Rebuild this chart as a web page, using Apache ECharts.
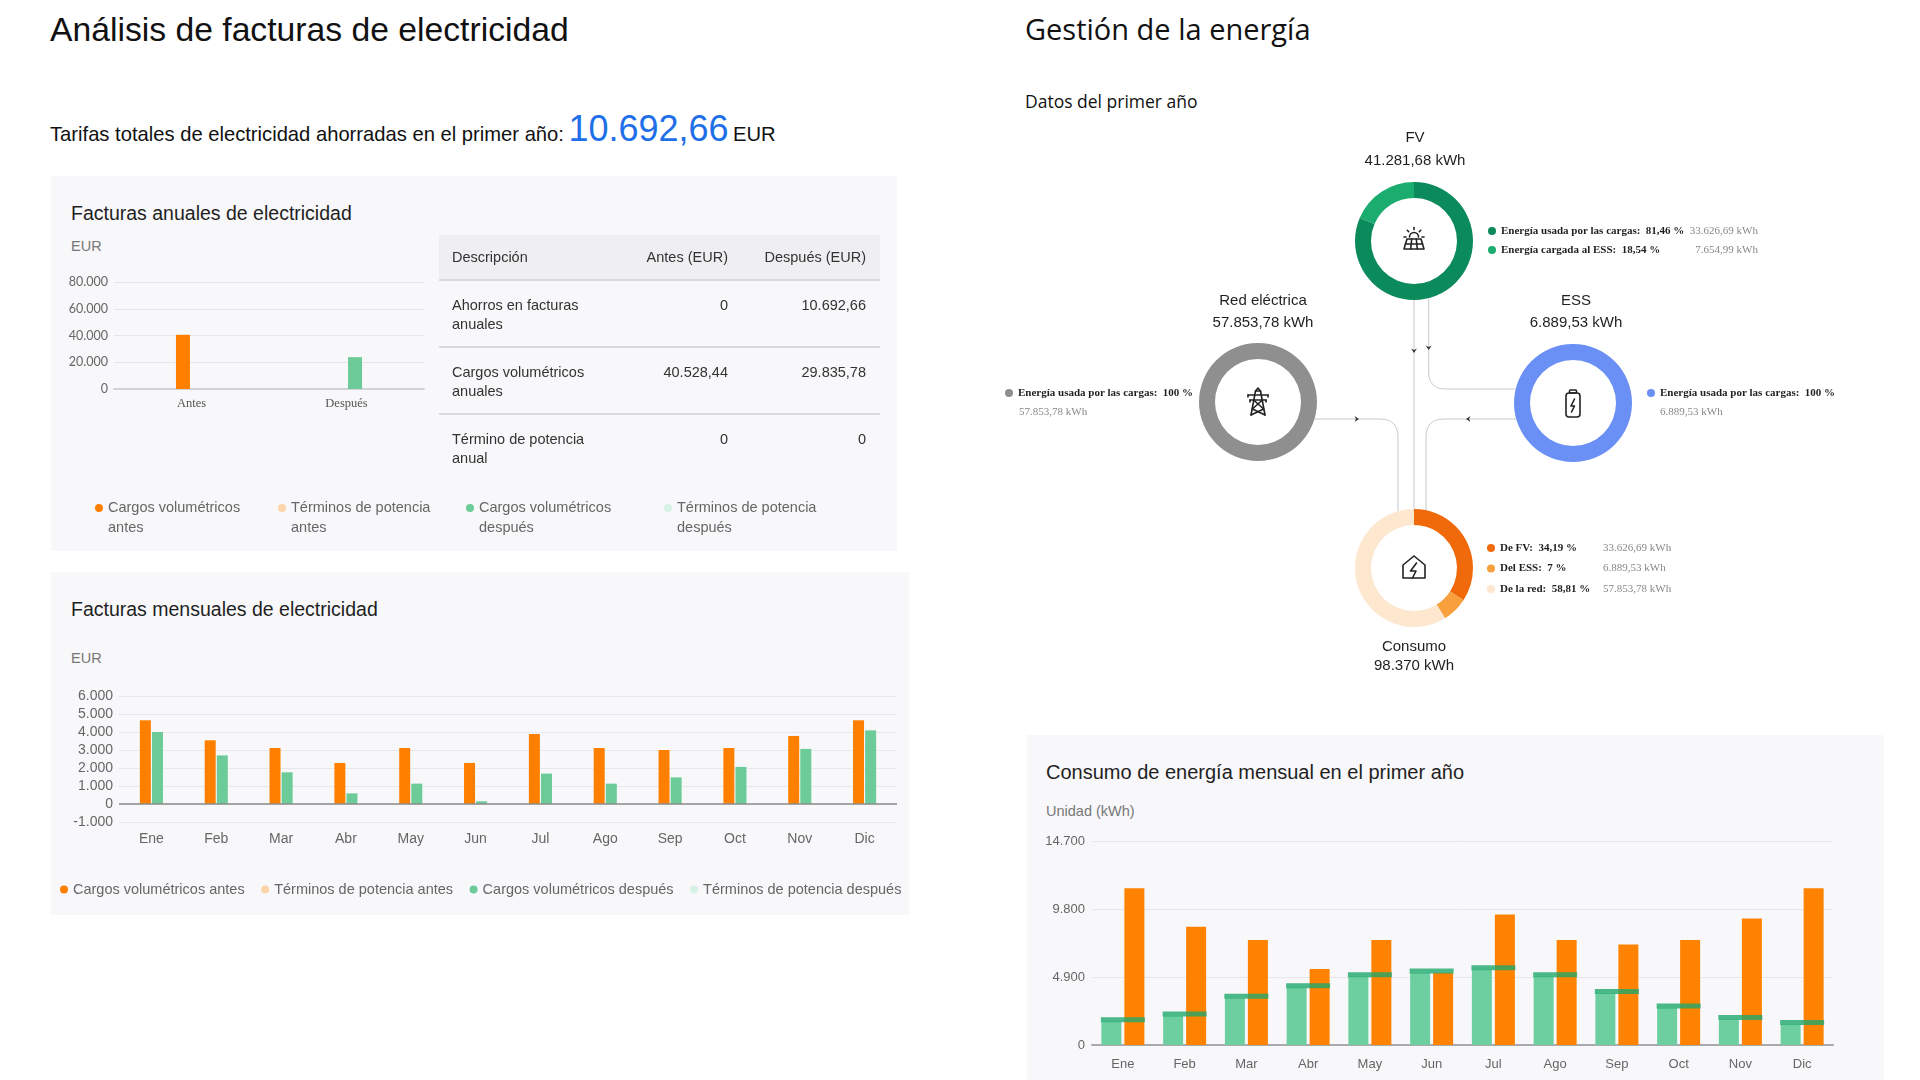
<!DOCTYPE html>
<html lang="es">
<head>
<meta charset="utf-8">
<title>Análisis de facturas de electricidad</title>
<script src="https://cdn.jsdelivr.net/npm/echarts@6/dist/echarts.min.js"></script>
<style>
  html, body { margin: 0; padding: 0; background: #fff; }
  body { width: 1920px; height: 1080px; position: relative; overflow: hidden;
         font-family: 'Liberation Sans', Arial, sans-serif; color: #1a1a1a; }
  .abs { position: absolute; }
  .panel { position: absolute; background: #f8f8fa; }
  .ptitle { position: absolute; font-size: 19.5px; line-height: 22px; color: #1f1f1f; white-space: nowrap; }
  .unit { position: absolute; font-size: 14.5px; line-height: 16px; color: #777; }
  #annualTable { position: absolute; border-collapse: collapse; table-layout: fixed; width: 441px;
                 font-size: 14.5px; color: #333; }
  #annualTable th { background: #efeff2; font-weight: normal; height: 44px; padding: 0 14px 0 13px;
                    border-bottom: 2px solid #dadade; }
  #annualTable td { vertical-align: top; height: 50px; padding: 15px 14px 0 13px; line-height: 19px;
                    border-bottom: 2px solid #dadade; }
  #annualTable tr:last-child td { border-bottom: none; }
  #annualTable .l { text-align: left; }
  #annualTable .r { text-align: right; }
</style>
</head>
<body>

<div class="abs" style="left:50px;top:9px;font-size:33.7px;line-height:40px;color:#111;">Análisis de facturas de electricidad</div>
<div class="abs" style="left:50px;top:107px;line-height:44px;white-space:nowrap;color:#111;">
  <span style="font-size:20.2px;">Tarifas totales de electricidad ahorradas en el primer año:</span>
  <span id="savedTotal" style="font-size:36px;color:#1f6fe8;"></span>
  <span style="font-size:20.2px;">EUR</span>
</div>

<div class="panel" style="left:51px;top:176px;width:846px;height:375px;"></div>
<div class="ptitle" style="left:71px;top:202px;">Facturas anuales de electricidad</div>
<div class="unit" style="left:71px;top:238px;">EUR</div>
<div id="annualChart" class="abs" style="left:51px;top:176px;width:846px;height:375px;"></div>
<table id="annualTable" style="left:439px;top:235px;">
  <colgroup><col style="width:175px"><col style="width:128px"><col style="width:138px"></colgroup>
  <thead><tr id="tableHead"></tr></thead>
  <tbody id="tableBody"></tbody>
</table>

<div class="panel" style="left:51px;top:572px;width:858px;height:343px;"></div>
<div class="ptitle" style="left:71px;top:598px;">Facturas mensuales de electricidad</div>
<div class="unit" style="left:71px;top:650px;">EUR</div>
<div id="monthlyChart" class="abs" style="left:51px;top:572px;width:858px;height:343px;"></div>

<div class="abs" style="left:1025px;top:9px;font-family:'Open Sans',sans-serif;font-size:29px;color:#111;white-space:nowrap;">Gestión de la energía</div>
<div class="abs" style="left:1025px;top:89px;font-family:'Open Sans',sans-serif;font-size:17.5px;color:#111;white-space:nowrap;">Datos del primer año</div>
<div id="flowChart" class="abs" style="left:1000px;top:0px;width:920px;height:720px;"></div>

<div class="panel" style="left:1027px;top:735px;width:857px;height:345px;"></div>
<div class="ptitle" style="left:1046px;top:761px;font-size:20px;">Consumo de energía mensual en el primer año</div>
<div class="unit" style="left:1046px;top:803px;">Unidad (kWh)</div>
<div id="energyChart" class="abs" style="left:1027px;top:735px;width:857px;height:345px;"></div>

<script>
// ---------------- datos ----------------
var savedTotal = 10692.66;

var tableHead = ['Descripción', 'Antes (EUR)', 'Después (EUR)'];
var tableDesc = [['Ahorros en facturas', 'anuales'], ['Cargos volumétricos', 'anuales'], ['Término de potencia', 'anual']];
var tableAntes = [0, 40528.44, 0];
var tableDespues = [10692.66, 29835.78, 0];

var seriesNames = ['Cargos volumétricos antes', 'Términos de potencia antes', 'Cargos volumétricos después', 'Términos de potencia después'];

var annualCats = ['Antes', 'Después'];
var annualCargosAntes = [40528.44, 0];
var annualTerminosAntes = [0, 0];
var annualCargosDespues = [0, 23840];
var annualTerminosDespues = [0, 0];

var months = ['Ene', 'Feb', 'Mar', 'Abr', 'May', 'Jun', 'Jul', 'Ago', 'Sep', 'Oct', 'Nov', 'Dic'];
var cargosAntes = [4650, 3540, 3110, 2280, 3110, 2280, 3890, 3110, 3000, 3110, 3780, 4650];
var terminosAntes = [0, 0, 0, 0, 0, 0, 0, 0, 0, 0, 0, 0];
var cargosDespues = [4000, 2700, 1760, 590, 1130, 150, 1690, 1130, 1480, 2060, 3060, 4090];
var terminosDespues = [0, 0, 0, 0, 0, 0, 0, 0, 0, 0, 0, 0];

var pvMonthly = [1670, 2090, 3360, 4130, 4920, 5180, 5420, 4920, 3720, 2670, 1830, 1470];
var consumoMonthly = [11300, 8520, 7570, 5480, 7570, 5200, 9410, 7570, 7250, 7570, 9120, 11300];

var fvTotal = 41281.68;
var fvNames = ['Energía usada por las cargas', 'Energía cargada al ESS'];
var fvValues = [33626.69, 7654.99];
var fvPct = ['81,46', '18,54'];

var gridTotal = 57853.78;
var gridNames = ['Energía usada por las cargas'];
var gridValues = [57853.78];
var gridPct = ['100'];

var essTotal = 6889.53;
var essNames = ['Energía usada por las cargas'];
var essValues = [6889.53];
var essPct = ['100'];

var consumoTotal = 98370;
var consumoNames = ['De FV', 'Del ESS', 'De la red'];
var consumoValues = [33626.69, 6889.53, 57853.78];
var consumoPct = ['34,19', '7', '58,81'];

// ---------------- estilos ----------------
var seriesColors = ['#ff8000', '#fdd3a9', '#6ccb98', '#d7f2e4'];
var seriesStacks = ['antes', 'antes', 'despues', 'despues'];
var fvColors = ['#0b8a5b', '#1bad6f'];
var gridColors = ['#8f8f8f'];
var essColors = ['#6a8ff5'];
var consumoColors = ['#f06a0c', '#f7a03d', '#fde7cf'];

function fmtNum(v, d) {
  var s = Number(v).toFixed(d || 0);
  var p = s.split('.');
  p[0] = p[0].replace(/\B(?=(\d{3})+(?!\d))/g, '.');
  return p.length > 1 ? p[0] + ',' + p[1] : p[0];
}
function fmtEur(v) { return v === 0 ? '0' : fmtNum(v, 2); }

// ---------------- cabecera y tabla ----------------
document.getElementById('savedTotal').textContent = fmtNum(savedTotal, 2);
var headHtml = '';
tableHead.forEach(function(h, i) { headHtml += '<th class="' + (i ? 'r' : 'l') + '">' + h + '</th>'; });
document.getElementById('tableHead').innerHTML = headHtml;
var bodyHtml = '';
tableDesc.forEach(function(d, i) {
  bodyHtml += '<tr><td class="l">' + d.join('<br>') + '</td><td class="r">' + fmtEur(tableAntes[i]) +
    '</td><td class="r">' + fmtEur(tableDespues[i]) + '</td></tr>';
});
document.getElementById('tableBody').innerHTML = bodyHtml;

// ---------------- facturas anuales ----------------
var annualChart = echarts.init(document.getElementById('annualChart'));
var annualData = [annualCargosAntes, annualTerminosAntes, annualCargosDespues, annualTerminosDespues];
var legendX = [44, 227, 415, 613];
// punto a la altura de la primera linea del texto
var dotIcon = 'path://M-4,0A4,4,0,1,1,4,0A4,4,0,1,1,-4,0ZM0,24L0,24';

annualChart.setOption({
  animation: false,
  grid: { left: 63, top: 106, width: 310, height: 107 },
  legend: seriesNames.map(function(n, i) {
    return {
      data: [n], left: legendX[i], top: 322, padding: 0, selectedMode: false,
      icon: dotIcon, itemWidth: 8, itemHeight: 28,
      formatter: function(name) {
        var k = name.lastIndexOf(' ');
        return name.slice(0, k) + '\n' + name.slice(k + 1);
      },
      textStyle: { fontFamily: 'Liberation Sans', fontSize: 14.5, lineHeight: 20, color: '#666' }
    };
  }),
  xAxis: {
    type: 'category', data: annualCats,
    axisLine: { lineStyle: { color: '#d2d2d7', width: 2 } },
    axisTick: { show: false },
    axisLabel: { fontFamily: 'Liberation Serif', fontSize: 12.5, color: '#555', margin: 8 }
  },
  yAxis: {
    type: 'value', min: 0, max: 80000, interval: 20000,
    axisLine: { show: false }, axisTick: { show: false },
    axisLabel: { formatter: function(v) { return fmtNum(v); }, fontFamily: 'Lato', fontSize: 12.5, color: '#666', margin: 6 },
    splitLine: { lineStyle: { color: '#e6e6ea' } }
  },
  series: annualData.map(function(d, i) {
    return { name: seriesNames[i], type: 'bar', stack: seriesStacks[i], data: d,
             barWidth: 14, barGap: '22%', itemStyle: { color: seriesColors[i] } };
  })
});

// ---------------- facturas mensuales ----------------
var monthlyChart = echarts.init(document.getElementById('monthlyChart'));
var monthlyData = [cargosAntes, terminosAntes, cargosDespues, terminosDespues];
monthlyChart.setOption({
  animation: false,
  grid: { left: 68, top: 124, width: 778, height: 126 },
  legend: {
    data: seriesNames, left: 9, top: 310, width: 900, padding: 0, itemGap: 16.5, selectedMode: false,
    icon: 'circle', itemWidth: 8, itemHeight: 8,
    textStyle: { fontFamily: 'Liberation Sans', fontSize: 14.5, color: '#666' }
  },
  xAxis: {
    type: 'category', data: months,
    axisLine: { show: false, onZero: false }, axisTick: { show: false },
    axisLabel: { fontFamily: 'Liberation Sans', fontSize: 14, color: '#666', margin: 10 }
  },
  yAxis: {
    type: 'value', min: -1000, max: 6000, interval: 1000,
    axisLine: { show: false }, axisTick: { show: false },
    axisLabel: { formatter: function(v) { return fmtNum(v); }, fontFamily: 'Liberation Sans', fontSize: 14, color: '#666', margin: 6 },
    splitLine: { lineStyle: { color: '#e8e8ec' } }
  },
  series: monthlyData.map(function(d, i) {
    var s = { name: seriesNames[i], type: 'bar', stack: seriesStacks[i], data: d,
              barWidth: 11, barGap: '10%', itemStyle: { color: seriesColors[i] } };
    if (i === 0) {
      s.markLine = { silent: true, symbol: ['none', 'none'], label: { show: false },
                     lineStyle: { color: '#8d8d8d', type: 'solid', width: 1.5 }, data: [{ yAxis: 0 }] };
    }
    return s;
  })
});

// ---------------- gestion de la energia ----------------
var flowChart = echarts.init(document.getElementById('flowChart'));
var R_OUT = 59, R_IN = 43;
var nodeFV = [414, 241], nodeGrid = [258, 402], nodeESS = [573, 403], nodeCons = [414, 568];

function ring(name, center, names, values, colors) {
  return {
    name: name, type: 'pie', center: center, radius: [R_IN, R_OUT], startAngle: 90, clockwise: true,
    silent: true, label: { show: false }, labelLine: { show: false }, z: 2,
    data: values.map(function(v, i) { return { name: names[i], value: v, itemStyle: { color: colors[i] } }; })
  };
}

// esquinas redondeadas para los conectores
function rounded(pts, r) {
  var out = [pts[0]];
  for (var i = 1; i < pts.length - 1; i++) {
    var a = pts[i - 1], b = pts[i], c = pts[i + 1];
    var l1 = Math.hypot(b[0] - a[0], b[1] - a[1]), l2 = Math.hypot(c[0] - b[0], c[1] - b[1]);
    var s = [b[0] - (b[0] - a[0]) / l1 * r, b[1] - (b[1] - a[1]) / l1 * r];
    var e = [b[0] + (c[0] - b[0]) / l2 * r, b[1] + (c[1] - b[1]) / l2 * r];
    for (var t = 0; t <= 1.0001; t += 0.125) {
      out.push([(1 - t) * (1 - t) * s[0] + 2 * (1 - t) * t * b[0] + t * t * e[0],
                (1 - t) * (1 - t) * s[1] + 2 * (1 - t) * t * b[1] + t * t * e[1]]);
    }
  }
  out.push(pts[pts.length - 1]);
  return out;
}
function edgeY(center, dx, sign) { return center[1] + sign * Math.sqrt(R_OUT * R_OUT - dx * dx); }
function edgeX(center, dy, sign) { return center[0] + sign * Math.sqrt(R_OUT * R_OUT - dy * dy); }

var lineStyle = { stroke: '#c9c9c9', lineWidth: 1, fill: 'none' };
var xFvEss = nodeFV[0] + 14.7, yFvEss = nodeESS[1] - 14;
var yGridC = nodeGrid[1] + 17, xGridC = nodeCons[0] - 16;
var yEssC = nodeESS[1] + 16, xEssC = nodeCons[0] + 12;
var connectors = [
  [[nodeFV[0], nodeFV[1] + R_OUT], [nodeCons[0], nodeCons[1] - R_OUT]],
  rounded([[xFvEss, edgeY(nodeFV, 14.7, 1)], [xFvEss, yFvEss], [edgeX(nodeESS, -14, -1), yFvEss]], 17),
  rounded([[edgeX(nodeGrid, 17, 1), yGridC], [xGridC, yGridC], [xGridC, edgeY(nodeCons, -16, -1)]], 18),
  rounded([[edgeX(nodeESS, 16, -1), yEssC], [xEssC, yEssC], [xEssC, edgeY(nodeCons, 12, -1)]], 18)
];

function arrow(x, y, dir) {
  var p = {
    down: [[-3, -2.5], [0, 2], [3, -2.5], [0, -1]],
    right: [[-2.5, -3], [2, 0], [-2.5, 3], [-1, 0]],
    left: [[2.5, -3], [-2, 0], [2.5, 3], [1, 0]]
  }[dir];
  return { type: 'polygon', x: x, y: y, z: 3, silent: true, shape: { points: p }, style: { fill: '#333' } };
}

var ink = { stroke: '#222', lineWidth: 1.6, fill: 'none', lineJoin: 'round', lineCap: 'round' };
function ln(x1, y1, x2, y2) { return { type: 'line', shape: { x1: x1, y1: y1, x2: x2, y2: y2 }, style: ink }; }
function pl(pts) { return { type: 'polyline', shape: { points: pts }, style: ink }; }

var iconSolar = { type: 'group', x: nodeFV[0], y: nodeFV[1] - 2, z: 10, silent: true, children: [
  { type: 'arc', shape: { cx: 0, cy: -2, r: 4.5, startAngle: Math.PI, endAngle: Math.PI * 2 }, style: ink },
  ln(0, -9.5, 0, -11.5), ln(-5.3, -7.3, -6.7, -8.7), ln(5.3, -7.3, 6.7, -8.7), ln(-8, -2, -10, -2), ln(8, -2, 10, -2),
  { type: 'polygon', shape: { points: [[-7, 0], [7, 0], [10, 10], [-10, 10]] }, style: ink },
  ln(-8.5, 5, 8.5, 5), ln(-2.3, 0, -3.3, 10), ln(2.3, 0, 3.3, 10)
] };
var iconTower = { type: 'group', x: nodeGrid[0], y: nodeGrid[1], z: 10, silent: true, children: [
  pl([[-7, 13], [-2.5, -11], [0, -14], [2.5, -11], [7, 13]]),
  ln(-2.5, -11, 2.5, -11),
  ln(-10, -7, 10, -7), ln(-10, -7, -10, -5), ln(10, -7, 10, -5),
  ln(-8, -2, 8, -2), ln(-8, -2, -8, 0), ln(8, -2, 8, 0),
  ln(-4.4, -2, 5.6, 7), ln(4.4, -2, -5.6, 7), ln(-5.6, 7, 7, 13), ln(5.6, 7, -7, 13)
] };
var iconBattery = { type: 'group', x: nodeESS[0], y: nodeESS[1] + 1, z: 10, silent: true, children: [
  { type: 'rect', shape: { x: -7, y: -11, width: 14, height: 24, r: 3 }, style: ink },
  { type: 'rect', shape: { x: -3.5, y: -14, width: 7, height: 3, r: 1 }, style: ink },
  pl([[1.5, -5], [-2, 2], [1.5, 2], [-1.5, 8]])
] };
var iconHouse = { type: 'group', x: nodeCons[0], y: nodeCons[1], z: 10, silent: true, children: [
  pl([[0, -12], [11, -3], [11, 10], [-11, 10], [-11, -3], [0, -12]]),
  pl([[2.5, -5], [-3.5, 3], [2, 3], [-1.5, 10]])
] };

var labelFont = '15px "Liberation Sans", Arial, sans-serif';
function label(x, y, text) {
  return { type: 'text', x: x, y: y, z: 10, silent: true,
           style: { text: text, font: labelFont, fill: '#1f1f1f', align: 'center', verticalAlign: 'middle' } };
}
var serif = 'Liberation Serif';
function subValue(x, y, text) {
  return { type: 'text', x: x, y: y, z: 10, silent: true,
           style: { text: text, fontFamily: serif, fontSize: 11, fill: '#888', align: 'left', verticalAlign: 'middle' } };
}

function ringLegend(names, colors, left, top, gap, fmt, aWidth, bWidth, bAlign) {
  return {
    orient: 'vertical', left: left, top: top, padding: 0, itemGap: gap, selectedMode: false,
    icon: 'circle', itemWidth: 8, itemHeight: 8,
    data: names.map(function(n, i) { return { name: n, itemStyle: { color: colors[i] } }; }),
    formatter: fmt,
    textStyle: {
      lineHeight: 14,
      rich: {
        a: { fontFamily: serif, fontWeight: 'bold', fontSize: 11, color: '#1f1f1f', width: aWidth, lineHeight: 14 },
        b: { fontFamily: serif, fontSize: 11, color: '#888', width: bWidth, align: bAlign, lineHeight: 14 }
      }
    }
  };
}

var graphics = connectors.map(function(pts) {
  return { type: 'polyline', z: 1, silent: true, shape: { points: pts }, style: lineStyle };
});
graphics = graphics.concat([
  arrow(nodeFV[0], 351, 'down'), arrow(xFvEss, 348, 'down'), arrow(357, yGridC, 'right'), arrow(468, yEssC, 'left'),
  iconSolar, iconTower, iconBattery, iconHouse,
  label(415, 138, 'FV'), label(415, 161, fmtNum(fvTotal, 2) + ' kWh'),
  label(263, 301, 'Red eléctrica'), label(263, 323, fmtNum(gridTotal, 2) + ' kWh'),
  label(576, 301, 'ESS'), label(576, 323, fmtNum(essTotal, 2) + ' kWh'),
  label(414, 647, 'Consumo'), label(414, 666, fmtNum(consumoTotal, 0) + ' kWh'),
  subValue(19, 412, fmtNum(gridValues[0], 2) + ' kWh'),
  subValue(660, 412, fmtNum(essValues[0], 2) + ' kWh')
]);

flowChart.setOption({
  animation: false,
  legend: [
    ringLegend(fvNames, fvColors, 488, 224, 5, function(name) {
      var i = fvNames.indexOf(name);
      return '{a|' + name + ':  ' + fvPct[i] + ' %}{b|' + fmtNum(fvValues[i], 2) + ' kWh}';
    }, 188, 69, 'right'),
    ringLegend(gridNames, gridColors, 5, 386, 5, function(name) {
      return '{a|' + name + ':  ' + gridPct[0] + ' %}';
    }),
    ringLegend(essNames, essColors, 647, 386, 5, function(name) {
      return '{a|' + name + ':  ' + essPct[0] + ' %}';
    }),
    ringLegend(consumoNames, consumoColors, 487, 541, 6.5, function(name) {
      var i = consumoNames.indexOf(name);
      return '{a|' + name + ':  ' + consumoPct[i] + ' %}{b|' + fmtNum(consumoValues[i], 2) + ' kWh}';
    }, 103, 90, 'left')
  ],
  series: [
    ring('FV', nodeFV, fvNames, fvValues, fvColors),
    ring('Red eléctrica', nodeGrid, gridNames, gridValues, gridColors),
    ring('ESS', nodeESS, essNames, essValues, essColors),
    ring('Consumo', nodeCons, consumoNames, consumoValues, consumoColors)
  ],
  graphic: { elements: graphics }
});

// ---------------- consumo mensual ----------------
var energyChart = echarts.init(document.getElementById('energyChart'));
energyChart.setOption({
  animation: false,
  grid: { left: 65, top: 106, width: 741, height: 204 },
  xAxis: {
    type: 'category', data: months,
    axisLine: { lineStyle: { color: '#a9a9ae', width: 2 } }, axisTick: { show: false },
    axisLabel: { fontFamily: 'Liberation Sans', fontSize: 13, color: '#666', margin: 13 }
  },
  yAxis: {
    type: 'value', min: 0, max: 14700, interval: 4900,
    axisLine: { show: false }, axisTick: { show: false },
    axisLabel: { formatter: function(v) { return fmtNum(v); }, fontFamily: 'Liberation Sans', fontSize: 13, color: '#666', margin: 7 },
    splitLine: { lineStyle: { color: '#e6e6ea' } }
  },
  series: [
    { name: 'FV', type: 'bar', data: pvMonthly, barWidth: 20, barGap: '15%', itemStyle: { color: '#6dcfa0' } },
    { name: 'Consumo', type: 'bar', data: consumoMonthly, barWidth: 20, itemStyle: { color: '#ff8200' } },
    { name: 'FV marca', type: 'scatter', data: pvMonthly, symbol: 'rect', symbolSize: [44, 5],
      symbolOffset: [0, -2], itemStyle: { color: '#1ea86b' }, z: 5, silent: true }
  ]
});
</script>
</body>
</html>
